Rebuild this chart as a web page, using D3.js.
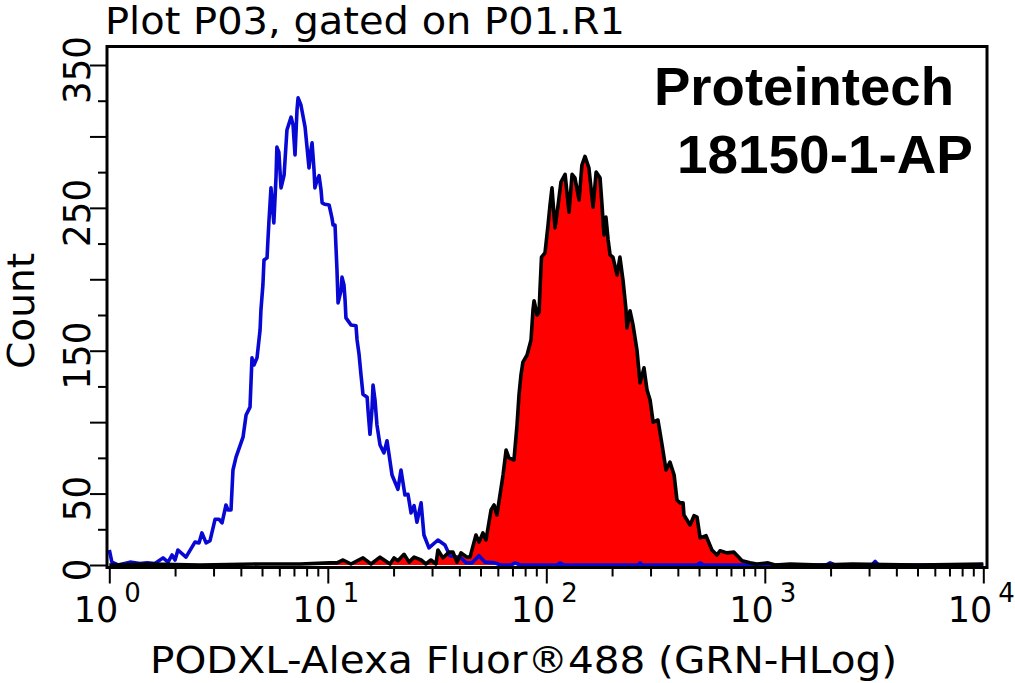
<!DOCTYPE html>
<html><head><meta charset="utf-8">
<script src="https://cdn.jsdelivr.net/npm/d3@7/dist/d3.min.js"></script>
<style>
html,body{margin:0;padding:0;background:#fff}
svg{display:block}
text{fill:#000;font-family:"DejaVu Sans",sans-serif}
.brand{font-family:"Liberation Sans",Arial,sans-serif;font-weight:bold}
</style></head><body>
<svg id="c" width="1015" height="683"></svg>
<script>
const titleText = "Plot P03, gated on P01.R1";
const xTitleText = "PODXL-Alexa Fluor\u00AE488 (GRN-HLog)";
const yTitleText = "Count";
const brandLines = ["Proteintech", "18150-1-AP"];
const xDecades = [0, 1, 2, 3, 4];
const xMinorFactors = [2, 3, 4, 5, 6, 7, 8, 9];
const yMajor = [0, 50, 100, 150, 200, 250, 300, 350];
const yMinor = [25, 75, 125, 175, 225, 275, 325];
const yLabelled = [0, 50, 150, 250, 350];

const blueLogX = [0,0.012,0.04,0.095,0.14,0.173,0.209,0.246,0.269,0.287,0.301,0.314,0.351,0.392,0.411,0.424,0.443,0.461,0.484,0.502,0.516,0.534,0.543,0.557,0.566,0.58,0.612,0.626,0.644,0.653,0.662,0.676,0.69,0.694,0.703,0.708,0.722,0.726,0.731,0.74,0.753,0.763,0.767,0.776,0.786,0.8,0.813,0.832,0.841,0.85,0.859,0.864,0.877,0.896,0.914,0.923,0.928,0.937,0.941,0.951,0.96,0.969,0.974,0.987,1.006,1.019,1.024,1.033,1.038,1.042,1.047,1.061,1.065,1.074,1.079,1.083,1.097,1.106,1.129,1.134,1.143,1.152,1.161,1.18,1.184,1.193,1.202,1.207,1.216,1.225,1.239,1.257,1.271,1.294,1.321,1.335,1.353,1.367,1.381,1.395,1.408,1.427,1.44,1.463,1.504,1.536,1.559,1.61,1.633,1.66,1.692,1.72,1.765,1.79,1.84,1.857,1.88,2.05,2.063,2.08,2.42,2.429,2.44,2.69,2.704,2.72,3.28,3.299,3.32,3.49,3.505,3.52,4];
const blueCount = [10.5,2,0,2,1,1.5,1,5,2,7,3.5,10.5,5.5,16,15.5,22.5,15.5,17,32,32,29.5,42,38.5,38.5,66.5,75.5,89.5,105,110.5,145,140,145,164.5,178.5,196,213.5,215,227.5,241.5,264,239.5,271.5,292.5,289,264,273,304.5,313.5,308,287,318.5,327,322,306.5,278,290.5,295.5,276.5,264,269.5,272.5,262.5,253.5,252.5,252,243,238,238,220.5,206.5,183.5,192.5,201.5,196,185.5,173,170,168,167.5,157.5,147.5,133,119.5,117.5,108.5,91.5,108.5,126,115.5,98,84,78.5,87,63,53,66.5,49,49.5,36.5,41.5,30,43.5,21,12,17.5,14,6.5,5,1.5,1.5,6.5,2,1.5,0,0,1.5,0,0,1.5,0,0,1.5,0,0,1.5,0,0,1.5,0,0,2.5,0,0];

const redLogX = [0,0.186,0.415,0.69,0.873,1.01,1.042,1.07,1.106,1.161,1.198,1.239,1.285,1.303,1.321,1.349,1.372,1.395,1.427,1.449,1.472,1.495,1.504,1.527,1.555,1.573,1.591,1.61,1.637,1.651,1.678,1.692,1.71,1.724,1.747,1.761,1.774,1.802,1.816,1.829,1.852,1.866,1.875,1.884,1.893,1.912,1.93,1.939,1.944,1.958,1.967,1.971,1.978,1.994,2.008,2.017,2.026,2.04,2.054,2.067,2.086,2.104,2.118,2.131,2.15,2.163,2.177,2.195,2.214,2.228,2.246,2.255,2.264,2.273,2.283,2.292,2.305,2.324,2.337,2.351,2.365,2.369,2.383,2.397,2.415,2.429,2.447,2.461,2.475,2.489,2.511,2.53,2.548,2.566,2.585,2.598,2.612,2.626,2.63,2.658,2.676,2.69,2.704,2.731,2.758,2.781,2.795,2.827,2.859,2.896,2.932,2.964,3.015,3.047,3.116,3.253,3.4,3.7,4];
const redCount = [0,0.7,0,0.7,0.7,1.5,1.5,3.5,0.7,5,0.7,5.5,0.7,5,3,7.5,2,5.5,3.5,0.7,3.5,0.7,10.5,5,9,9,2,8.5,5.5,5.5,21,16,22.5,17.5,38.5,42,35,63,80.5,75,73.5,98,119,133,142,147,157.5,178.5,185,175,177,192.5,215.5,218.5,238,252,264,236,252,268,273.5,247,273.5,271,255.5,280,286,278,250.5,275,271,252,231,243.5,227.5,217,215.5,203,215.5,199.5,178.5,166,178,168,150.5,127.5,138,122.5,115.5,100,101.5,84,66.5,72,63,45.5,43.5,43.5,35,28,34.5,33.5,19,20.5,10.5,7,10,8.5,9,3,1.5,0.7,1.5,0,0.7,0,0.7,0,0.7];

const svg = d3.select("#c");
const x = d3.scaleLog().domain([1, 1e4]).range([109.3, 983.3]);
const y = d3.scaleLinear().domain([0, 350]).range([565, 65]);
const frame = {l: 107, t: 46.5, r: 987, b: 567.5};

const toPts = (xs, ys) => xs.map((v, i) => [Math.pow(10, v), ys[i]]);
const red = toPts(redLogX, redCount), blue = toPts(blueLogX, blueCount);

svg.append("path").datum(red)
  .attr("d", d3.area().x(d => x(d[0])).y0(y(0)).y1(d => y(d[1])))
  .attr("fill", "#ff0000");
svg.append("path").datum(blue)
  .attr("d", d3.line().x(d => x(d[0])).y(d => y(d[1])))
  .attr("fill", "none").attr("stroke", "#0808d4").attr("stroke-width", 3.6).attr("stroke-linejoin", "round");
svg.append("path").datum(red)
  .attr("d", d3.line().x(d => x(d[0])).y(d => y(d[1])))
  .attr("fill", "none").attr("stroke", "#000").attr("stroke-width", 3.6).attr("stroke-linejoin", "round");

svg.append("rect").attr("x", frame.l).attr("y", frame.t)
  .attr("width", frame.r - frame.l).attr("height", frame.b - frame.t)
  .attr("fill", "none").attr("stroke", "#000").attr("stroke-width", 3);

function styleAxis(g) {
  g.select(".domain").remove();
  g.selectAll("text").remove();
  g.selectAll("line").attr("stroke", "#000").attr("stroke-width", 2);
}
const minorVals = [];
xDecades.slice(0, -1).forEach(d => xMinorFactors.forEach(f => minorVals.push(f * Math.pow(10, d))));
svg.append("g").attr("transform", `translate(0,${frame.b + 1})`)
  .call(d3.axisBottom(x).tickValues(xDecades.map(d => Math.pow(10, d))).tickSize(15)).call(styleAxis);
svg.append("g").attr("transform", `translate(0,${frame.b + 1})`)
  .call(d3.axisBottom(x).tickValues(minorVals).tickSize(8)).call(styleAxis);
svg.append("g").attr("transform", `translate(${frame.l},0)`)
  .call(d3.axisLeft(y).tickValues(yMajor).tickSize(17)).call(styleAxis);
svg.append("g").attr("transform", `translate(${frame.l},0)`)
  .call(d3.axisLeft(y).tickValues(yMinor).tickSize(9)).call(styleAxis);

// y tick labels
yLabelled.forEach(v => {
  svg.append("text").text(v)
    .attr("transform", `translate(90,${y(v) + 5}) rotate(-90)`)
    .attr("text-anchor", "middle").attr("font-size", 38)
    .attr("textLength", String(v).length * 22.7).attr("lengthAdjust", "spacingAndGlyphs");
});
// x tick labels
xDecades.forEach(d => {
  const px = x(Math.pow(10, d));
  svg.append("text").text("10").attr("x", px + 9).attr("y", 622)
    .attr("text-anchor", "end").attr("font-size", 35);
  svg.append("text").text(d).attr("x", px + 15).attr("y", 602)
    .attr("font-size", 26);
});

svg.append("text").text(titleText).attr("x", 105).attr("y", 34)
  .attr("font-size", 37).attr("textLength", 520).attr("lengthAdjust", "spacingAndGlyphs");
svg.append("text").text(xTitleText).attr("x", 150).attr("y", 673)
  .attr("font-size", 38).attr("textLength", 747).attr("lengthAdjust", "spacingAndGlyphs");
svg.append("text").text(yTitleText)
  .attr("transform", "translate(34,369) rotate(-90)")
  .attr("font-size", 37).attr("textLength", 116).attr("lengthAdjust", "spacingAndGlyphs");

svg.append("text").attr("class", "brand").text(brandLines[0]).attr("x", 654).attr("y", 105)
  .attr("font-size", 53).attr("textLength", 300).attr("lengthAdjust", "spacingAndGlyphs");
svg.append("text").attr("class", "brand").text(brandLines[1]).attr("x", 677).attr("y", 173)
  .attr("font-size", 54).attr("textLength", 296).attr("lengthAdjust", "spacingAndGlyphs");
</script>
</body></html>
